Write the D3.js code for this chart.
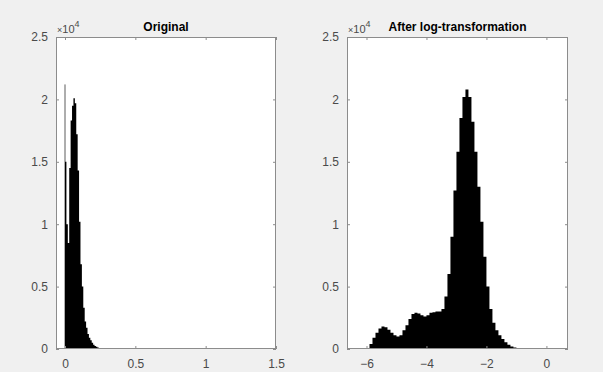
<!DOCTYPE html>
<html>
<head>
<meta charset="utf-8">
<script src="https://cdn.jsdelivr.net/npm/d3@7"></script>
<style>
  html, body { margin: 0; padding: 0; background: #f0f0f0; }
  svg { display: block; font-family: "Liberation Sans", Arial, sans-serif; }
</style>
</head>
<body>
<svg id="chart" width="603" height="372"></svg>
<script>
// counts are in units of 10^4
const yTicks = [0, 0.5, 1, 1.5, 2, 2.5];

// left panel: original values, bin width 0.01 starting at 0
const origBinWidth = 0.01;
const origBinStarts = d3.range(0, 0.3, origBinWidth);
const origCounts = [
  1.5, 1.0, 0.85, 1.45, 1.83, 1.95, 2.01, 1.97, 1.72, 1.43,
  1.02, 0.68, 0.5, 0.33, 0.22, 0.17, 0.12, 0.09, 0.07, 0.05,
  0.035, 0.025, 0.018, 0.012, 0.008, 0.006, 0.004, 0.003, 0.002, 0.001
];
const origZeroSpike = 2.12; // thin spike of exact zeros
const origXTicks = [0, 0.5, 1, 1.5];

// right panel: log values, bin width 0.1 starting at -6
const logBinWidth = 0.1;
const logBinStarts = d3.range(-6, -0.75, logBinWidth);
const logCounts = [
  0.005, 0.04, 0.09, 0.13, 0.165, 0.18, 0.175, 0.155, 0.13, 0.11,
  0.10, 0.11, 0.15, 0.19, 0.24, 0.28, 0.29, 0.285, 0.27, 0.26,
  0.27, 0.29, 0.295, 0.30, 0.30, 0.32, 0.42, 0.6, 0.9, 1.27,
  1.58, 1.85, 2.02, 2.08, 2.02, 1.82, 1.58, 1.30, 1.02, 0.74,
  0.50, 0.32, 0.21, 0.15, 0.11, 0.08, 0.055, 0.035, 0.02, 0.012,
  0.006, 0.002
];
const logXTicks = [-6, -4, -2, 0];

const svg = d3.select('#chart');
const axisColor = '#8c8c8c';
const textColor = '#4a4a4a';
const plotTop = 37, plotBottom = 349;

const y = d3.scaleLinear().domain([0, 2.5]).range([plotBottom, plotTop]);

function drawPanel(opts) {
  const x = d3.scaleLinear().domain(opts.xDomain).range([opts.left, opts.right]);
  const g = svg.append('g');

  // white plot area
  g.append('rect')
    .attr('x', opts.left).attr('y', plotTop)
    .attr('width', opts.right - opts.left).attr('height', plotBottom - plotTop)
    .attr('fill', '#fff');

  if (opts.spike != null) {
    g.append('rect')
      .attr('x', x(0) - 0.8)
      .attr('y', y(opts.spike))
      .attr('width', 1.6)
      .attr('height', y(0) - y(opts.spike))
      .attr('fill', '#9a9a9a');
  }

  // histogram bins as one stepped outline (no seams between bars)
  const bins = opts.starts.map((s, i) => ({ s, c: opts.counts[i] }));
  const last = bins[bins.length - 1];
  bins.push({ s: last.s + opts.binWidth, c: last.c });
  const area = d3.area()
    .x(d => x(d.s))
    .y0(y(0))
    .y1(d => y(d.c))
    .curve(d3.curveStepAfter);
  g.append('path')
    .datum(bins)
    .attr('d', area)
    .attr('fill', '#000');

  // box + inward ticks on all sides
  const tl = 3;
  g.append('g')
    .attr('transform', `translate(0,${plotBottom})`)
    .call(d3.axisBottom(x).tickValues(opts.xTicks).tickSize(-tl).tickPadding(10).tickFormat(d3.format('')))
    .call(a => a.select('.domain').remove());
  g.append('g')
    .attr('transform', `translate(0,${plotTop})`)
    .call(d3.axisTop(x).tickValues(opts.xTicks).tickSize(-tl).tickFormat(''))
    .call(a => a.select('.domain').remove());
  g.append('g')
    .attr('transform', `translate(${opts.left},0)`)
    .call(d3.axisLeft(y).tickValues(yTicks).tickSize(-tl).tickPadding(8).tickFormat(d3.format('')))
    .call(a => a.select('.domain').remove());
  g.append('g')
    .attr('transform', `translate(${opts.right},0)`)
    .call(d3.axisRight(y).tickValues(yTicks).tickSize(-tl).tickFormat(''))
    .call(a => a.select('.domain').remove());

  g.selectAll('.tick line').attr('stroke', axisColor);
  g.selectAll('.tick text')
    .attr('fill', textColor)
    .attr('font-size', 12)
    .attr('font-family', '"Liberation Sans", Arial, sans-serif');

  g.append('rect')
    .attr('x', opts.left + 0.5).attr('y', plotTop + 0.5)
    .attr('width', opts.right - opts.left - 1).attr('height', plotBottom - plotTop - 1)
    .attr('fill', 'none')
    .attr('stroke', axisColor);

  // exponent label
  const ex = g.append('text')
    .attr('x', opts.left + 1).attr('y', plotTop - 4)
    .attr('fill', textColor)
    .attr('font-size', 11);
  ex.append('tspan').attr('font-size', 9).text('\u00d7');
  ex.append('tspan').text('10');
  ex.append('tspan').attr('dy', -6).attr('font-size', 9).text('4');

  // title
  g.append('text')
    .attr('x', (opts.left + opts.right) / 2)
    .attr('y', plotTop - 6)
    .attr('text-anchor', 'middle')
    .attr('font-weight', 'bold')
    .attr('font-size', 12)
    .attr('fill', '#000')
    .text(opts.title);
}

drawPanel({
  title: 'Original',
  left: 56, right: 276,
  xDomain: [-0.064, 1.5],
  xTicks: origXTicks,
  starts: origBinStarts,
  counts: origCounts,
  binWidth: origBinWidth,
  spike: origZeroSpike
});

drawPanel({
  title: 'After log-transformation',
  left: 347, right: 568,
  xDomain: [-6.65, 0.72],
  xTicks: logXTicks,
  starts: logBinStarts,
  counts: logCounts,
  binWidth: logBinWidth,
  spike: null
});
</script>
</body>
</html>
